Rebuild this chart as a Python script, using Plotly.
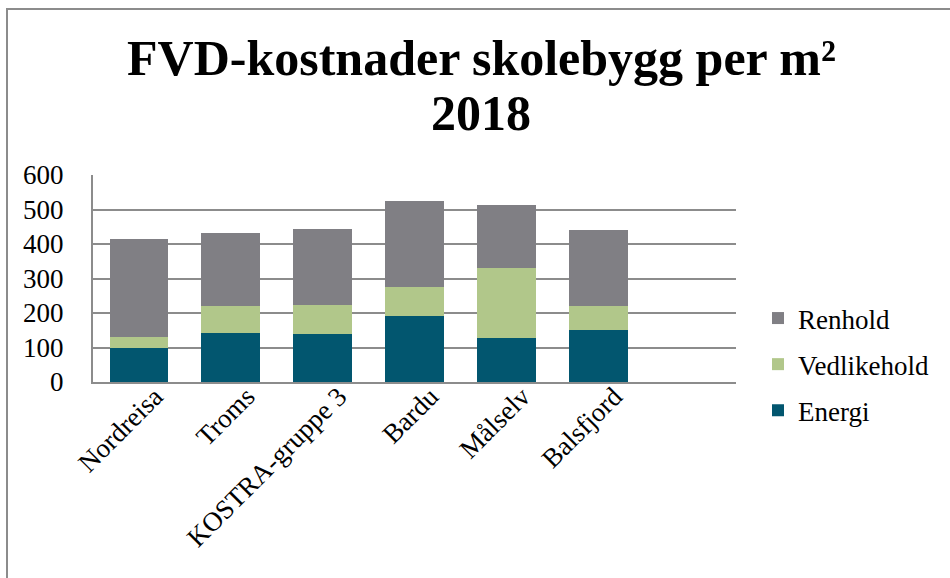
import plotly.graph_objects as go

# Kommuner / sammenligningsgrupper
kategorier = ["Nordreisa", "Troms", "KOSTRA-gruppe 3", "Bardu", "Målselv", "Balsfjord"]

# FVD-kostnader per m² (kr), fordelt på komponent
energi = [100, 143, 139, 192, 127, 150]
vedlikehold = [31, 77, 84, 83, 203, 71]
renhold = [283, 211, 220, 250, 182, 220]

y_ticks = [0, 100, 200, 300, 400, 500, 600]

title_lines = ["FVD-kostnader skolebygg per m²", "2018"]

SERIF = "Liberation Serif"
GRID = "#8c8c8c"

W, H = 950, 578
L, R, T, B = 93, 214, 175, 196
pw, ph = W - L - R, H - T - B

fig = go.Figure()
series = [
    ("Energi", energi, "#02566f", 3),
    ("Vedlikehold", vedlikehold, "#b1c78a", 2),
    ("Renhold", renhold, "#807f84", 1),
]
for name, vals, col, rank in series:
    fig.add_trace(go.Bar(
        x=kategorier, y=vals, name=name, legendgroup=name, legendrank=rank,
        marker=dict(color=col, line=dict(width=0)),
    ))

# outer chart frame (left and top edges visible)
fig.add_shape(type="rect", xref="paper", yref="paper",
              x0=(7 - L) / pw, x1=(W + 20 - L) / pw,
              y0=-(B + 20) / ph, y1=(H - B - 9) / ph,
              line=dict(color=GRID, width=2), fillcolor="rgba(0,0,0,0)", layer="below")

# chart title, one annotation per line for tighter line spacing
for line, ypix in zip(title_lines, [58, 113]):
    fig.add_annotation(
        text=f"<b>{line}</b>",
        font=dict(family=SERIF, size=50, color="black"),
        xref="paper", yref="paper",
        x=(481 - L) / pw, xanchor="center",
        y=(H - B - ypix) / ph, yanchor="middle",
        showarrow=False,
    )

fig.update_layout(
    width=W, height=H,
    margin=dict(l=L, r=R, t=T, b=B, autoexpand=False),
    paper_bgcolor="white", plot_bgcolor="white",
    barmode="stack", bargap=0.36,
    font=dict(family=SERIF, color="black", size=26),
    xaxis=dict(
        type="category", categoryorder="array", categoryarray=kategorier,
        range=[-0.5, 6.5], tickangle=-45,
        tickfont=dict(family=SERIF, size=27, color="black"),
        showline=True, linecolor=GRID, linewidth=2,
        showgrid=False, ticks="", fixedrange=True,
        ticklabelshift=16, ticklabelstandoff=-14,
    ),
    yaxis=dict(
        range=[0, 600], tickvals=y_ticks,
        tickfont=dict(family=SERIF, size=27, color="black"),
        showline=True, linecolor=GRID, linewidth=2,
        showgrid=True, gridcolor=GRID, gridwidth=2,
        zeroline=False, ticks="", ticklabelstandoff=22,
    ),
    legend=dict(
        x=(758 - L) / pw, xanchor="left",
        y=(H - B - 294) / ph, yanchor="top",
        traceorder="grouped", tracegroupgap=8,
        font=dict(family=SERIF, size=27, color="black"),
        itemwidth=30, bgcolor="rgba(0,0,0,0)",
    ),
    showlegend=True,
)

fig.write_html("out.html")
